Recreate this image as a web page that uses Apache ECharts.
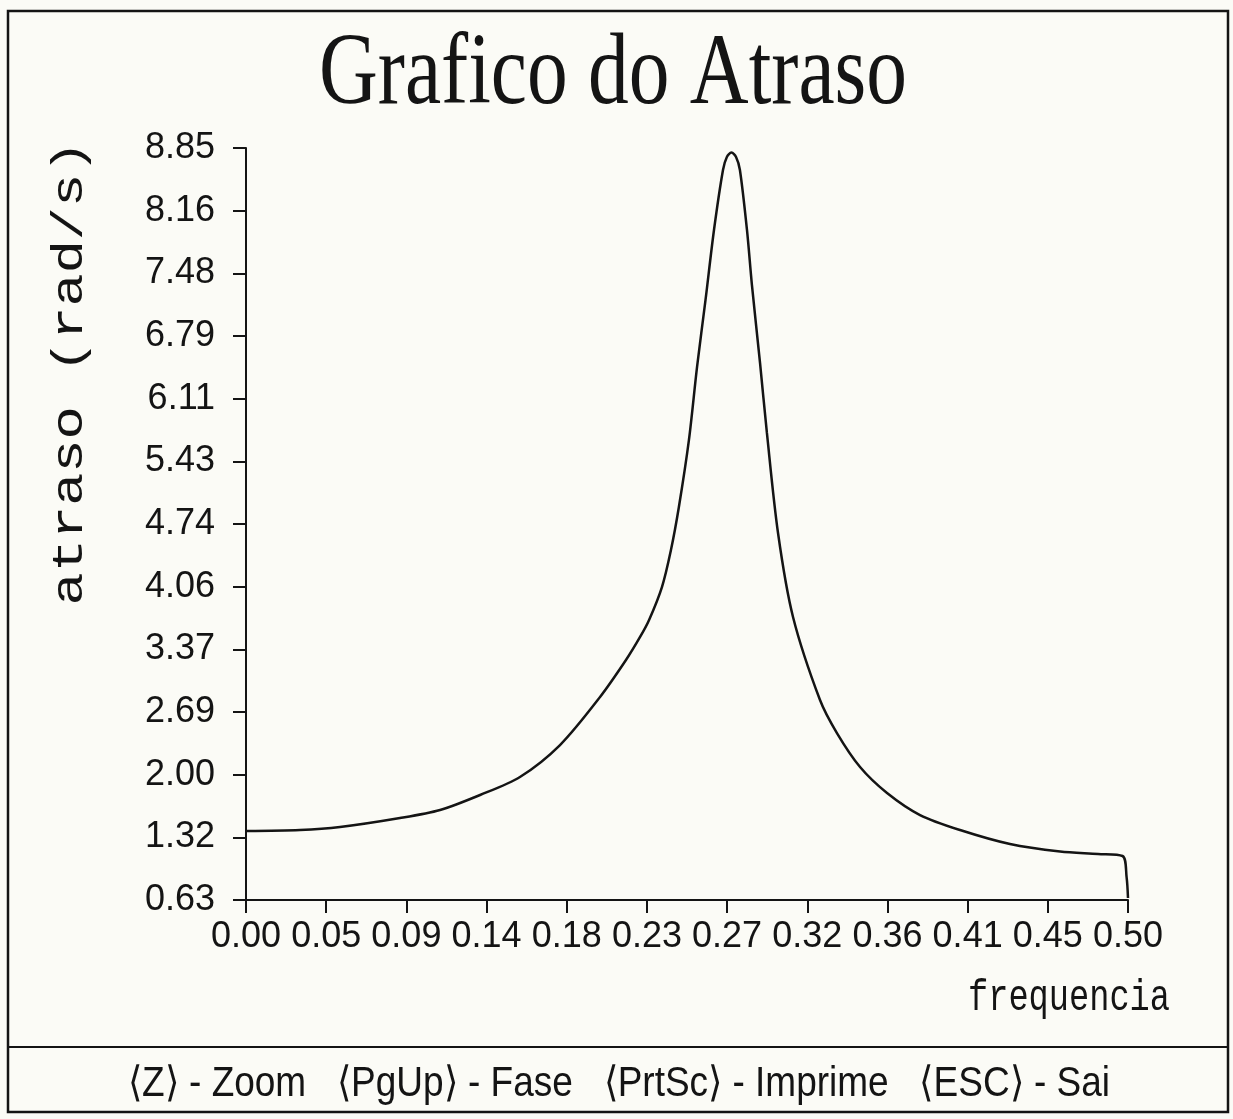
<!DOCTYPE html>
<html><head><meta charset="utf-8">
<script src="https://cdn.jsdelivr.net/npm/echarts@6/dist/echarts.min.js"></script>
<style>html,body{margin:0;padding:0;background:#fbfbf6;} #c{width:1233px;height:1119px;}</style>
</head><body><div id="c"></div>
<script>
// frequency (x) and delay (y)
const frequencia = [0.000, 0.0306, 0.0533, 0.0873, 0.1100, 0.1327, 0.1553, 0.1780, 0.2007, 0.2154, 0.2234, 0.2285, 0.2358, 0.2409, 0.2454, 0.2511, 0.2557, 0.2605, 0.2653, 0.2704, 0.2726, 0.2752, 0.2778, 0.2800, 0.2840, 0.2868, 0.2914, 0.2953, 0.3016, 0.3101, 0.3254, 0.3350, 0.3481, 0.3634, 0.3821, 0.4048, 0.4331, 0.4615, 0.4830, 0.4969, 0.4992, 0.5000];
const atraso =     [1.384, 1.395, 1.428, 1.526, 1.614, 1.778, 1.975, 2.324, 2.849, 3.253, 3.505, 3.691, 4.051, 4.456, 4.926, 5.659, 6.457, 7.189, 7.954, 8.610, 8.752, 8.801, 8.752, 8.610, 7.954, 7.353, 6.500, 5.735, 4.642, 3.724, 2.816, 2.455, 2.084, 1.800, 1.559, 1.395, 1.242, 1.160, 1.133, 1.111, 0.881, 0.652];
const xTickLabels = ['0.00','0.05','0.09','0.14','0.18','0.23','0.27','0.32','0.36','0.41','0.45','0.50'];
const yTickLabels = ['0.63','1.32','2.00','2.69','3.37','4.06','4.74','5.43','6.11','6.79','7.48','8.16','8.85'];
const titleText = 'Grafico do Atraso';
const yName = 'atraso (rad/s)';
const xName = 'frequencia';
const footerText = '\u27E8Z\u27E9 - Zoom   \u27E8PgUp\u27E9 - Fase   \u27E8PrtSc\u27E9 - Imprime   \u27E8ESC\u27E9 - Sai';

const xMin = 0, xMax = 0.5, yMin = 0.63, yMax = 8.85;
const xTickValues = xTickLabels.map((s, i) => xMin + i * (xMax - xMin) / (xTickLabels.length - 1));
const yTickValues = yTickLabels.map((s, i) => yMin + i * (yMax - yMin) / (yTickLabels.length - 1));
function nearestLabel(v, vals, labels) {
  let bi = 0, bd = Infinity;
  vals.forEach((t, i) => { const d = Math.abs(t - v); if (d < bd) { bd = d; bi = i; } });
  return labels[bi];
}
const seriesData = frequencia.map((f, i) => [f, atraso[i]]);

// measure natural text width to compute a horizontal squeeze that fits a target width
const mctx = document.createElement('canvas').getContext('2d');
function fitScale(text, font, target) { mctx.font = font; return target / mctx.measureText(text).width; }

const ink = '#141414';
const labelFont = 'Liberation Sans';
const titleFont = '102px "Liberation Serif"';
const yNameFont = '44px "Liberation Mono"';
const xNameFont = '44px "Liberation Mono"';
const footFont = '42px "Liberation Sans"';

const chart = echarts.init(document.getElementById('c'), null, {renderer: 'canvas'});
chart.setOption({
  backgroundColor: '#fbfbf6',
  animation: false,
  grid: {left: 246, right: 105, top: 148, bottom: 219, containLabel: false},
  xAxis: {
    type: 'value', min: xMin, max: xMax,
    axisLine: {show: true, lineStyle: {color: ink, width: 2}},
    axisTick: {show: true, length: 13, inside: false, lineStyle: {color: ink, width: 2}, customValues: xTickValues},
    axisLabel: {show: true, margin: 19, color: ink, fontFamily: labelFont, fontSize: 36,
      customValues: xTickValues, formatter: v => nearestLabel(v, xTickValues, xTickLabels)},
    splitLine: {show: false}
  },
  yAxis: {
    type: 'value', min: yMin, max: yMax,
    axisLine: {show: true, lineStyle: {color: ink, width: 2}},
    axisTick: {show: true, length: 13, inside: false, lineStyle: {color: ink, width: 2}, customValues: yTickValues},
    axisLabel: {show: true, margin: 31, color: ink, fontFamily: labelFont, fontSize: 36,
      customValues: yTickValues, formatter: v => nearestLabel(v, yTickValues, yTickLabels)},
    splitLine: {show: false}
  },
  series: [{
    type: 'line', data: seriesData, showSymbol: false, smooth: 0.3,
    lineStyle: {color: ink, width: 2.5}, clip: false
  }],
  graphic: [
    {type: 'rect', shape: {x: 8, y: 11, width: 1220, height: 1101}, style: {fill: 'none', stroke: ink, lineWidth: 2.5}},
    {type: 'line', shape: {x1: 8, y1: 1047, x2: 1228, y2: 1047}, style: {stroke: ink, lineWidth: 2}},
    {type: 'text', x: 613, y: 76, scaleX: fitScale(titleText, titleFont, 588),
      style: {text: titleText, font: titleFont, fill: ink, textAlign: 'center', textVerticalAlign: 'middle'}},
    {type: 'text', x: 70, y: 373, rotation: Math.PI / 2, scaleX: fitScale(yName, yNameFont, 465),
      style: {text: yName, font: yNameFont, fill: ink, textAlign: 'center', textVerticalAlign: 'middle'}},
    {type: 'text', x: 1069, y: 998, scaleX: fitScale(xName, xNameFont, 202),
      style: {text: xName, font: xNameFont, fill: ink, textAlign: 'center', textVerticalAlign: 'middle'}},
    {type: 'text', x: 619, y: 1084, scaleX: fitScale(footerText, footFont, 982),
      style: {text: footerText, font: footFont, fill: ink, textAlign: 'center', textVerticalAlign: 'middle'}}
  ]
});
</script></body></html>
